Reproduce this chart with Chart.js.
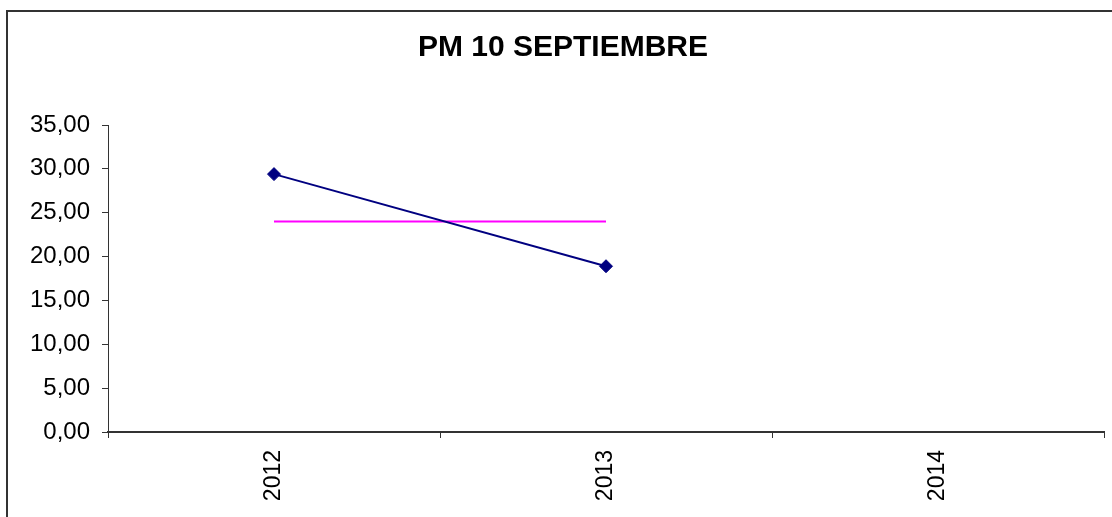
<!DOCTYPE html>
<html>
<head>
<meta charset="utf-8">
<title>PM 10 SEPTIEMBRE</title>
<script src="https://cdn.jsdelivr.net/npm/chart.js@4/dist/chart.umd.min.js"></script>
<style>
    html, body { margin: 0; padding: 0; background: #fff; }
    #chart-container { width: 1112px; height: 517px; }
</style>
</head>
<body>
<div id="chart-container">
    <canvas id="pmChart" width="1112" height="517"></canvas>
</div>
<script>
var years = ['2012', '2013', '2014'];
var pm10Values = [29.4, 18.9, null];
var normaValues = [24, 24, null];
var yTicks = [0, 5, 10, 15, 20, 25, 30, 35];

(function () {
    'use strict';

    var fontFamily = '"Liberation Sans", Arial, sans-serif';

    // marco del grafico (solo borde izquierdo y superior visibles)
    var framePlugin = {
        id: 'frame',
        beforeDraw: function (chart) {
            var ctx = chart.ctx;
            ctx.save();
            ctx.strokeStyle = '#333';
            ctx.lineWidth = 2;
            ctx.beginPath();
            ctx.moveTo(7, chart.height);
            ctx.lineTo(7, 11);
            ctx.lineTo(chart.width, 11);
            ctx.stroke();
            ctx.restore();
        }
    };

    var ctx = document.getElementById('pmChart').getContext('2d');

    new Chart(ctx, {
        type: 'line',
        data: {
            labels: years,
            datasets: [
                {
                    label: 'PM 10',
                    data: pm10Values,
                    borderColor: '#000080',
                    backgroundColor: '#000080',
                    borderWidth: 2,
                    pointStyle: 'rectRot',
                    pointRadius: 6.5,
                    pointBorderWidth: 1,
                    tension: 0
                },
                {
                    label: 'Norma',
                    data: normaValues,
                    borderColor: '#FF00FF',
                    backgroundColor: '#FF00FF',
                    borderWidth: 2,
                    pointRadius: 0,
                    tension: 0
                }
            ]
        },
        options: {
            responsive: false,
            animation: false,
            layout: {
                padding: { left: 22, right: 8, top: 0, bottom: 0 }
            },
            plugins: {
                legend: { display: false },
                tooltip: { enabled: false },
                title: {
                    display: true,
                    text: 'PM 10 SEPTIEMBRE',
                    color: '#000',
                    font: { family: fontFamily, size: 30, weight: 'bold', lineHeight: 1.2 },
                    padding: { top: 30, bottom: 59 }
                }
            },
            scales: {
                x: {
                    type: 'category',
                    offset: true,
                    afterFit: function (scale) { scale.height = 85; },
                    border: { color: '#333', width: 2 },
                    grid: {
                        offset: true,
                        drawOnChartArea: false,
                        tickLength: 6,
                        color: '#333'
                    },
                    ticks: {
                        color: '#000',
                        minRotation: 90,
                        maxRotation: 90,
                        padding: 12,
                        font: { family: fontFamily, size: 23 }
                    }
                },
                y: {
                    min: 0,
                    max: 35,
                    afterFit: function (scale) { scale.width = 86; },
                    afterBuildTicks: function (scale) {
                        scale.ticks = yTicks.map(function (v) { return { value: v }; });
                    },
                    border: { color: '#333', width: 1 },
                    grid: {
                        drawOnChartArea: false,
                        tickLength: 6,
                        color: '#333'
                    },
                    ticks: {
                        color: '#000',
                        padding: 12,
                        font: { family: fontFamily, size: 24 },
                        callback: function (value) {
                            return value.toFixed(2).replace('.', ',');
                        }
                    }
                }
            }
        },
        plugins: [framePlugin]
    });
})();
</script>
</body>
</html>
